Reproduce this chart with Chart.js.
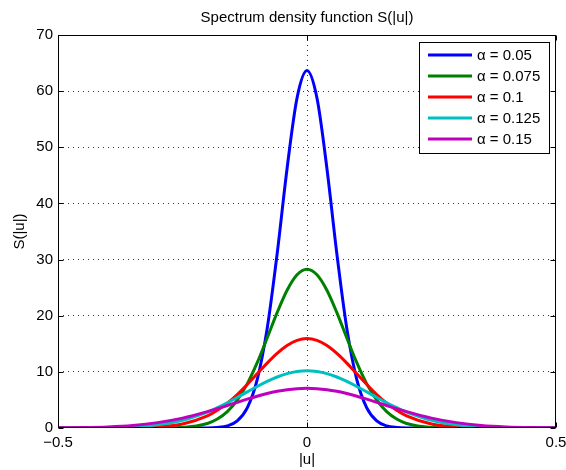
<!DOCTYPE html>
<html>
<head>
<meta charset="utf-8">
<script src="https://cdn.jsdelivr.net/npm/chart.js@4"></script>
<style>
  html, body { margin: 0; padding: 0; background: #fff; }
  #wrap { position: relative; width: 566px; height: 470px; }
</style>
</head>
<body>
<div id="wrap"><canvas id="spectrum"></canvas></div>
<script>
// sample positions along |u|
const uVals = [-0.5, -0.45, -0.4, -0.35, -0.3, -0.25, -0.2, -0.18, -0.16, -0.14, -0.12, -0.1, -0.08, -0.06, -0.04, -0.02,
  0, 0.02, 0.04, 0.06, 0.08, 0.1, 0.12, 0.14, 0.16, 0.18, 0.2, 0.25, 0.3, 0.35, 0.4, 0.45, 0.5];

// S(|u|)
const s005 = [0, 0, 0, 0, 0, 0, 0.02, 0.10, 0.38, 1.26, 3.57, 8.62, 17.70, 30.99, 46.23, 58.77,
  63.66, 58.77, 46.23, 30.99, 17.70, 8.62, 3.57, 1.26, 0.38, 0.10, 0.02, 0, 0, 0, 0, 0, 0];
const s0075 = [0, 0, 0, 0, 0.01, 0.11, 0.81, 1.59, 2.91, 4.96, 7.86, 11.63, 16.02, 20.54, 24.54, 27.30,
  28.29, 27.30, 24.54, 20.54, 16.02, 11.63, 7.86, 4.96, 2.91, 1.59, 0.81, 0.11, 0.01, 0, 0, 0, 0];
const s01 = [0, 0, 0.01, 0.03, 0.18, 0.70, 2.15, 3.15, 4.42, 5.97, 7.75, 9.65, 11.56, 13.29, 14.69, 15.60,
  15.92, 15.60, 14.69, 13.29, 11.56, 9.65, 7.75, 5.97, 4.42, 3.15, 2.15, 0.70, 0.18, 0.03, 0.01, 0, 0];
const s0125 = [0, 0.02, 0.06, 0.20, 0.57, 1.38, 2.83, 3.61, 4.49, 5.44, 6.43, 7.40, 8.30, 9.08, 9.68, 10.06,
  10.19, 10.06, 9.68, 9.08, 8.30, 7.40, 6.43, 5.44, 4.49, 3.61, 2.83, 1.38, 0.57, 0.20, 0.06, 0.02, 0];
const s015 = [0.03, 0.08, 0.20, 0.46, 0.96, 1.76, 2.91, 3.44, 4.01, 4.58, 5.14, 5.66, 6.14, 6.53, 6.83, 7.01,
  7.07, 7.01, 6.83, 6.53, 6.14, 5.66, 5.14, 4.58, 4.01, 3.44, 2.91, 1.76, 0.96, 0.46, 0.20, 0.08, 0.03];

const seriesLabels = ['\u03b1 = 0.05', '\u03b1 = 0.075', '\u03b1 = 0.1', '\u03b1 = 0.125', '\u03b1 = 0.15'];
const seriesValues = [s005, s0075, s01, s0125, s015];
const seriesColors = ['#0000ff', '#008000', '#ff0000', '#00bfbf', '#bf00bf'];

const FONT = '"Liberation Sans", Arial, Helvetica, sans-serif';

const toPoints = (ys) => ys.map((v, i) => ({x: uVals[i], y: v}));

// frame, inward ticks and legend box like the original figure
const matlabFrame = {
  id: 'matlabFrame',
  afterDraw(chart) {
    const {ctx, chartArea: a, scales: {x, y}} = chart;
    const L = Math.round(a.left) + 0.5, R = Math.round(a.right) - 0.5;
    const T = Math.round(a.top) + 0.5, B = Math.round(a.bottom) - 0.5;
    ctx.save();
    ctx.strokeStyle = '#000';
    ctx.lineWidth = 1;
    ctx.setLineDash([]);
    ctx.strokeRect(L, T, R - L, B - T);

    // inward tick marks
    const tl = 5;
    ctx.beginPath();
    x.ticks.forEach(t => {
      const px = Math.round(x.getPixelForValue(t.value)) + 0.5;
      ctx.moveTo(px, B); ctx.lineTo(px, B - tl);
      ctx.moveTo(px, T); ctx.lineTo(px, T + tl);
    });
    y.ticks.forEach(t => {
      const py = Math.round(y.getPixelForValue(t.value)) + 0.5;
      ctx.moveTo(L, py); ctx.lineTo(L + tl, py);
      ctx.moveTo(R, py); ctx.lineTo(R - tl, py);
    });
    ctx.stroke();

    // legend
    const bx = 419.5, by = 42.5, bw = 130, bh = 111;
    ctx.fillStyle = '#fff';
    ctx.fillRect(bx, by, bw, bh);
    ctx.strokeRect(bx, by, bw, bh);
    ctx.font = '15px ' + FONT;
    ctx.textBaseline = 'middle';
    ctx.textAlign = 'left';
    seriesLabels.forEach((lab, i) => {
      const cy = 55 + i * 21;
      ctx.strokeStyle = seriesColors[i];
      ctx.lineWidth = 3;
      ctx.beginPath();
      ctx.moveTo(428, cy); ctx.lineTo(472, cy);
      ctx.stroke();
      ctx.fillStyle = '#000';
      ctx.fillText(lab, 477, cy + 1);
    });
    ctx.restore();
  }
};

const edgeTransparent = (lo, hi) => (c) =>
  (c.tick && (c.tick.value === lo || c.tick.value === hi)) ? 'rgba(0,0,0,0)' : '#333';

new Chart(document.getElementById('spectrum'), {
  type: 'line',
  data: {
    datasets: seriesValues.map((ys, i) => ({
      label: seriesLabels[i],
      data: toPoints(ys),
      borderColor: seriesColors[i],
      backgroundColor: seriesColors[i],
      borderWidth: 3,
      pointRadius: 0,
      fill: false,
      cubicInterpolationMode: 'monotone',
      order: seriesValues.length - i
    }))
  },
  options: {
    responsive: true,
    maintainAspectRatio: false,
    animation: false,
    layout: {padding: {left: 0, right: 10, top: 0, bottom: 0}},
    plugins: {
      legend: {display: false},
      tooltip: {enabled: false},
      title: {
        display: true,
        fullSize: false,
        text: 'Spectrum density function S(|u|)',
        color: '#000',
        font: {family: FONT, size: 15, weight: 'normal'},
        padding: {top: 9, bottom: 8}
      }
    },
    scales: {
      x: {
        type: 'linear',
        min: -0.5,
        max: 0.5,
        ticks: {
          stepSize: 0.5,
          color: '#000',
          padding: 6,
          font: {family: FONT, size: 15},
          callback: v => v < 0 ? '\u2212' + Math.abs(v) : String(v)
        },
        grid: {drawTicks: false, color: edgeTransparent(-0.5, 0.5), lineWidth: 1},
        border: {display: false, dash: [1, 4]},
        title: {display: true, text: '|u|', color: '#000', font: {family: FONT, size: 15}, padding: {top: 0, bottom: 1}},
        afterFit: s => { s.height = 42; s.paddingLeft = 0; s.paddingRight = 0; }
      },
      y: {
        min: 0,
        max: 70,
        ticks: {
          stepSize: 10,
          color: '#000',
          padding: 5,
          font: {family: FONT, size: 15}
        },
        grid: {drawTicks: false, color: edgeTransparent(0, 70), lineWidth: 1},
        border: {display: false, dash: [1, 4]},
        title: {display: true, text: 'S(|u|)', color: '#000', font: {family: FONT, size: 15}, padding: {top: 11, bottom: 0}},
        afterFit: s => { s.width = 58; s.paddingTop = 0; s.paddingBottom = 0; }
      }
    }
  },
  plugins: [matlabFrame]
});
</script>
</body>
</html>
